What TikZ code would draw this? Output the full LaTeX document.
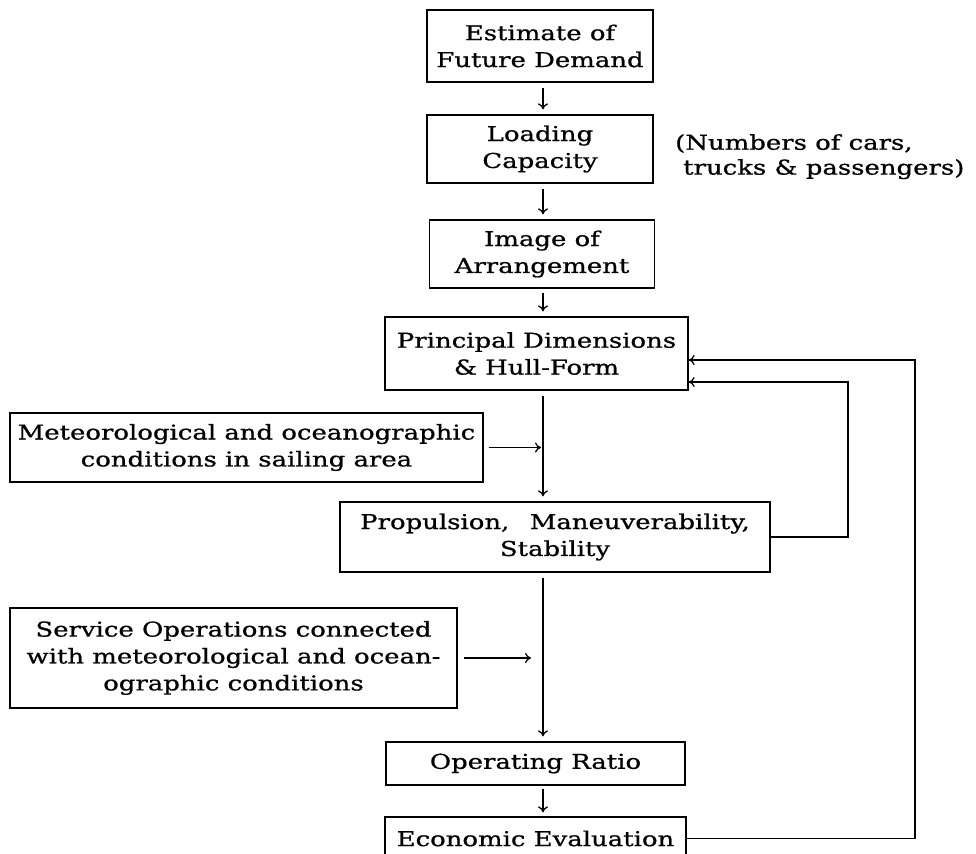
\documentclass[tikz,border=0pt]{standalone}
\usepackage{fontspec}
\setmainfont{DejaVu Serif}[FakeStretch=1.27,FakeBold=0.8]
\usetikzlibrary{arrows.meta}
\begin{document}
\begin{tikzpicture}[x=1bp,y=-1bp,
    box/.style={draw,line width=1.3bp,align=center,inner sep=0pt,
      font=\fontsize{20.5}{27}\selectfont},
    flow/.style={-{To[length=6bp,width=10bp]},line width=1.3bp}]
  \useasboundingbox (0,0) rectangle (976,854);
  % column of the main flow
  \coordinate (spine) at (543,0);
  \coordinate (inner) at (848,382);
  \coordinate (outer) at (915,360);
  \node [box,minimum width=226bp,minimum height=72bp] (est) at (540,46) {Estimate of\\Future Demand};
  \node [box,minimum width=226bp,minimum height=68bp] (load) at (540,149) {Loading\\Capacity};
  \node [box,minimum width=225bp,minimum height=68bp] (img) at (542,254) {Image of\\Arrangement};
  \node [box,minimum width=303bp,minimum height=73bp] (prin) at (536.5,353.5) {Principal Dimensions\\\& Hull-Form};
  \node [box,minimum width=473bp,minimum height=69bp] (met) at (246.5,447.5) {Meteorological and oceanographic\\conditions in sailing area};
  \node [box,minimum width=430bp,minimum height=70bp] (prop) at (555,537) {Propulsion,\hspace{1em}Maneuverability,\\Stability};
  \node [box,minimum width=447bp,minimum height=100bp] (serv) at (233.5,658) {Service Operations connected\\with meteorological and ocean-\\ographic conditions};
  \node [box,minimum width=299bp,minimum height=43bp] (oper) at (535.5,763.5) {Operating Ratio};
  \node [box,minimum width=301bp,minimum height=43bp] (econ) at (535.5,838.5) {Economic Evaluation};
  \node [anchor=north west,align=left,inner sep=0pt,font=\fontsize{20.5}{25}\selectfont] (note) at (675,134)
    {(Numbers of cars,\\\hspace{8bp}trucks \& passengers)};

  \draw [flow,shorten <=5bp,shorten >=5bp] (est.south -| spine) -- (load.north -| spine);
  \draw [flow,shorten <=5bp,shorten >=5bp] (load.south -| spine) -- (img.north -| spine);
  \draw [flow,shorten <=4bp,shorten >=5bp] (img.south -| spine) -- (prin.north -| spine);
  \draw [flow,shorten <=5bp,shorten >=5bp] (prin.south -| spine) -- (prop.north -| spine);
  \draw [flow,shorten <=5bp,shorten >=2bp] (met.east) -- (met.east -| spine);
  \draw [flow,shorten <=5bp,shorten >=5bp] (prop.south -| spine) -- (oper.north -| spine);
  \draw [flow,shorten <=6bp,shorten >=12bp] (serv.east) -- (serv.east -| spine);
  \draw [flow,shorten <=3bp,shorten >=4bp] (oper.south -| spine) -- (econ.north -| spine);
  \draw [flow] (prop.east) -| (inner) -- (inner -| prin.east);
  \draw [flow] (econ.east) -| (outer) -- (outer -| prin.east);
\end{tikzpicture}
\end{document}
